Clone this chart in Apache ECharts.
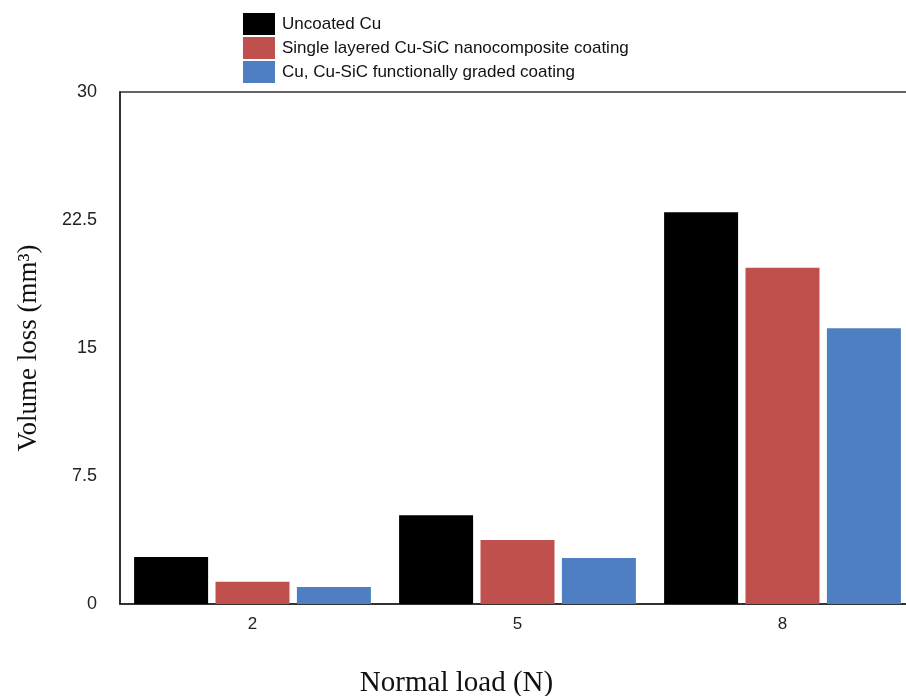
<!DOCTYPE html>
<html><head><meta charset="utf-8">
<script src="https://cdn.jsdelivr.net/npm/echarts@6/dist/echarts.min.js"></script>
<style>html,body{margin:0;padding:0;background:#fff}#c{width:906px;height:696px}</style>
</head><body><div id="c"></div>
<script>
const categories = ['2', '5', '8'];
const seriesNames = ['Uncoated Cu', 'Single layered Cu-SiC nanocomposite coating', 'Cu, Cu-SiC functionally graded coating'];
const uncoated = [2.75, 5.2, 22.95];
const singleLayer = [1.3, 3.75, 19.7];
const graded = [1.0, 2.7, 16.15];
const yTicks = [0, 7.5, 15, 22.5, 30];
const colors = ['#000000', '#c0504d', '#4e7fc2'];

const chart = echarts.init(document.getElementById('c'), null, {renderer: 'canvas'});
const values = [uncoated, singleLayer, graded];
chart.setOption({
  animation: false,
  backgroundColor: '#fff',
  color: colors,
  legend: {
    orient: 'vertical', left: 243, top: 13, padding: 0,
    itemWidth: 32, itemHeight: 22, itemGap: 2,
    icon: 'rect',
    textStyle: {fontFamily: 'Liberation Sans', fontSize: 17, color: '#111', padding: [0,0,0,2]},
    data: seriesNames
  },
  grid: {left: 120, top: 92, width: 795, height: 512, outerBoundsMode: 'none', containLabel: false,
         show: true, borderColor: '#333', borderWidth: 1.5},
  xAxis: {
    type: 'category', data: categories,
    axisLine: {lineStyle: {color: '#222', width: 1.5}},
    axisTick: {show: false},
    axisLabel: {fontFamily: 'Liberation Sans', fontSize: 17, color: '#222', margin: 12},
    name: 'Normal load (N)', nameLocation: 'middle', nameGap: 65,
    nameTextStyle: {fontFamily: 'Liberation Serif', fontSize: 29, color: '#111', padding: [0, 122, 0, 0]}
  },
  yAxis: {
    type: 'value', min: yTicks[0], max: yTicks[yTicks.length-1], interval: 7.5,
    axisLine: {show: true, lineStyle: {color: '#222', width: 1.5}},
    axisTick: {show: false},
    splitLine: {show: false},
    axisLabel: {fontFamily: 'Liberation Sans', fontSize: 18, color: '#222', margin: 23},
    name: 'Volume loss (mm³)', nameLocation: 'middle', nameGap: 78,
    nameTextStyle: {fontFamily: 'Liberation Serif', fontSize: 27, color: '#111'}
  },
  series: seriesNames.map((n, i) => ({
    name: n, type: 'bar', data: values[i], barWidth: 74, barGap: '10%'
  }))
});
</script></body></html>
